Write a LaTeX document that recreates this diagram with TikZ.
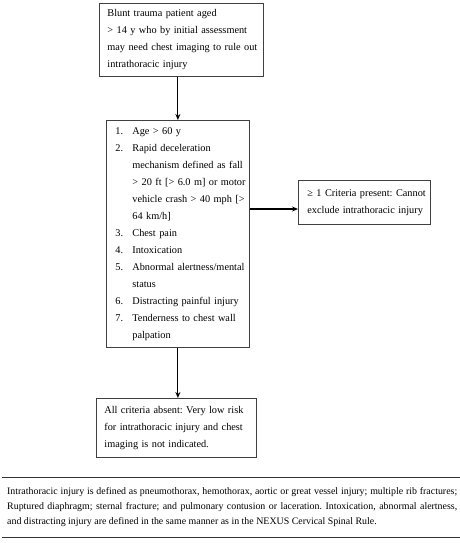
\documentclass[tikz,border=0pt]{standalone}
\usepackage{fontspec}
\setmainfont{Liberation Serif}
\usetikzlibrary{arrows.meta}
\frenchspacing
\hyphenpenalty=10000
\exhyphenpenalty=10000
\begin{document}
\begin{tikzpicture}[x=1pt,y=-1pt,
  boxstyle/.style={draw=black!75, line width=0.8pt, anchor=north west, align=left,
    inner xsep=0pt, inner ysep=0pt, font=\fontsize{10.3}{17}\selectfont},
  arr/.style={line width=1.1pt, -{Stealth[length=6pt,width=5pt]}},
  rulestyle/.style={line width=0.9pt, black!80}]
\useasboundingbox (0,0) rectangle (460,543);
\newcommand{\itm}[1]{\hspace*{9pt}\makebox[17pt][l]{#1}}
\newcommand{\cnt}{\hspace*{26pt}}
\node[boxstyle, minimum width=164pt, minimum height=73pt, text width=164pt] (b1) at (99,3)
  {\hspace*{8pt}Blunt trauma patient aged\\
   \hspace*{8pt}> 14 y who by initial assessment\\
   \hspace*{8pt}may need chest imaging to rule out\\
   \hspace*{8pt}intrathoracic injury};
\node[boxstyle, minimum width=143pt, minimum height=227pt, text width=143pt] (b2) at (106,120)
  {\itm{1.}Age > 60 y\\
   \itm{2.}Rapid deceleration\\
   \cnt mechanism defined as fall\\
   \cnt > 20 ft [> 6.0 m] or motor\\
   \cnt vehicle crash > 40 mph [>\\
   \cnt 64 km/h]\\
   \itm{3.}Chest pain\\
   \itm{4.}Intoxication\\
   \itm{5.}Abnormal alertness/mental\\
   \cnt status\\
   \itm{6.}Distracting painful injury\\
   \itm{7.}Tenderness to chest wall\\
   \cnt palpation};
\node[boxstyle, minimum width=132pt, minimum height=44pt, text width=132pt] (b3) at (298,180)
  {\hspace*{9pt}≥ 1 Criteria present: Cannot\\
   \hspace*{9pt}exclude intrathoracic injury};
\node[boxstyle, minimum width=160pt, minimum height=59pt, text width=160pt] (b4) at (96,398)
  {\hspace*{8pt}All criteria absent: Very low risk\\
   \hspace*{8pt}for intrathoracic injury and chest\\
   \hspace*{8pt}imaging is not indicated.};
\coordinate (ay) at (0,209);
\draw[arr] (b1.south -| b2.north) -- (b2.north);
\draw[arr] (b2.east |- ay) -- (b3.west |- ay);
\draw[arr] (b2.south) -- (b2.south |- b4.north);
\coordinate (r1a) at (2,477);
\coordinate (r1b) at (460,477);
\coordinate (r2a) at (2,537);
\coordinate (r2b) at (460,537);
\draw[rulestyle] (r1a) -- (r1b);
\draw[rulestyle] (r2a) -- (r2b);
\node[anchor=north west, text width=450pt, align=justify, inner sep=0pt,
  font=\fontsize{9.9}{15}\selectfont] (fn) at (7,487)
  {Intrathoracic injury is defined as pneumothorax, hemothorax, aortic or great vessel injury; multiple rib fractures;\linebreak
   Ruptured diaphragm; sternal fracture; and pulmonary contusion or laceration. Intoxication, abnormal alertness,\linebreak
   and distracting injury are defined in the same manner as in the NEXUS Cervical Spinal Rule.};
\end{tikzpicture}
\end{document}
